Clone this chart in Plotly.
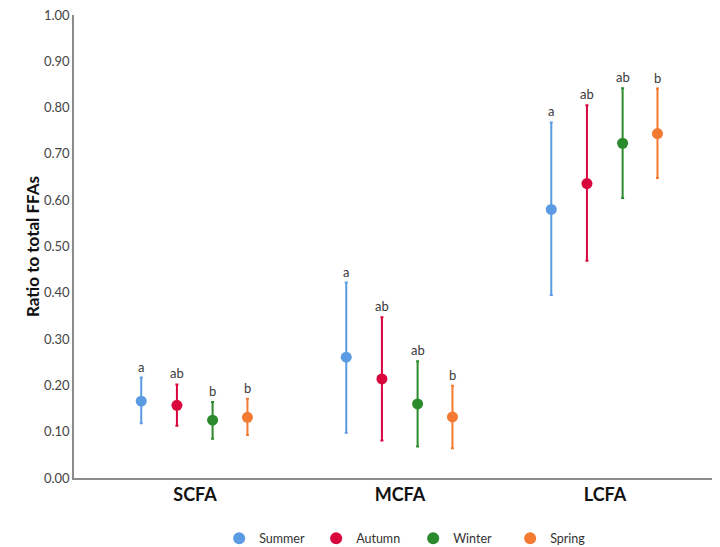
import plotly.graph_objects as go

categories = ["SCFA", "MCFA", "LCFA"]
seasons = ["Summer", "Autumn", "Winter", "Spring"]

mean_summer = [0.166, 0.261, 0.580]
mean_autumn = [0.157, 0.214, 0.636]
mean_winter = [0.125, 0.160, 0.723]
mean_spring = [0.131, 0.132, 0.744]

upper_summer = [0.217, 0.422, 0.768]
upper_autumn = [0.202, 0.347, 0.805]
upper_winter = [0.164, 0.252, 0.842]
upper_spring = [0.171, 0.199, 0.841]

lower_summer = [0.118, 0.098, 0.395]
lower_autumn = [0.113, 0.081, 0.469]
lower_winter = [0.085, 0.068, 0.605]
lower_spring = [0.093, 0.064, 0.648]

letters_summer = ["a", "a", "a"]
letters_autumn = ["ab", "ab", "ab"]
letters_winter = ["b", "ab", "ab"]
letters_spring = ["b", "b", "b"]

means = [mean_summer, mean_autumn, mean_winter, mean_spring]
uppers = [upper_summer, upper_autumn, upper_winter, upper_spring]
lowers = [lower_summer, lower_autumn, lower_winter, lower_spring]
letters = [letters_summer, letters_autumn, letters_winter, letters_spring]

colors = ["#5b9be3", "#d8063d", "#2b8a2b", "#f37a30"]
offsets = [-0.262, -0.088, 0.086, 0.256]

fig = go.Figure()
for s, name in enumerate(seasons):
    xs = [i + offsets[s] for i in range(len(categories))]
    m = means[s]
    up = [u - v for u, v in zip(uppers[s], m)]
    dn = [v - l for v, l in zip(m, lowers[s])]
    fig.add_trace(go.Scatter(
        x=xs, y=m, mode="markers", name=name,
        marker=dict(color=colors[s], size=11),
        error_y=dict(type="data", symmetric=False, array=up, arrayminus=dn,
                     color=colors[s], thickness=2, width=1.5),
    ))
    for i, x in enumerate(xs):
        fig.add_annotation(x=x, y=uppers[s][i], text=letters[s][i], showarrow=False,
                           yanchor="bottom", yshift=1,
                           font=dict(size=13, color="#3a3a3a", family="Lato"))

fig.update_layout(
    width=720, height=547,
    margin=dict(l=66, r=8, t=7, b=77),
    paper_bgcolor="white", plot_bgcolor="white",
    font=dict(family="Lato", color="#333333"),
    showlegend=True,
    legend=dict(orientation="h", x=0.525, xanchor="center",
                yref="container", y=0.03, yanchor="middle",
                font=dict(size=12.5, color="#333333"), entrywidth=52, itemwidth=30,
                itemsizing="constant"),
    xaxis=dict(range=[-0.590, 2.561], tickvals=[0, 1, 2], ticktext=categories,
               showgrid=False, zeroline=False, showline=True, linecolor="#8c8c8c",
               linewidth=1.5, ticks="", automargin=False,
               tickfont=dict(size=18, color="#111111", family="Lato", weight="bold")),
    yaxis=dict(range=[0, 1.0], tickvals=[0, 0.1, 0.2, 0.3, 0.4, 0.5, 0.6, 0.7, 0.8, 0.9, 1.0],
               tickformat=".2f", showgrid=False, zeroline=False, showline=True,
               linecolor="#8c8c8c", linewidth=1.5, ticks="", automargin=False,
               ticklabeloverflow="allow",
               tickfont=dict(size=13, color="#444444"),
               title=dict(text="Ratio to total FFAs", standoff=0,
                          font=dict(size=17, color="#111111", weight="bold"))),
)

fig.write_html("out.html")
